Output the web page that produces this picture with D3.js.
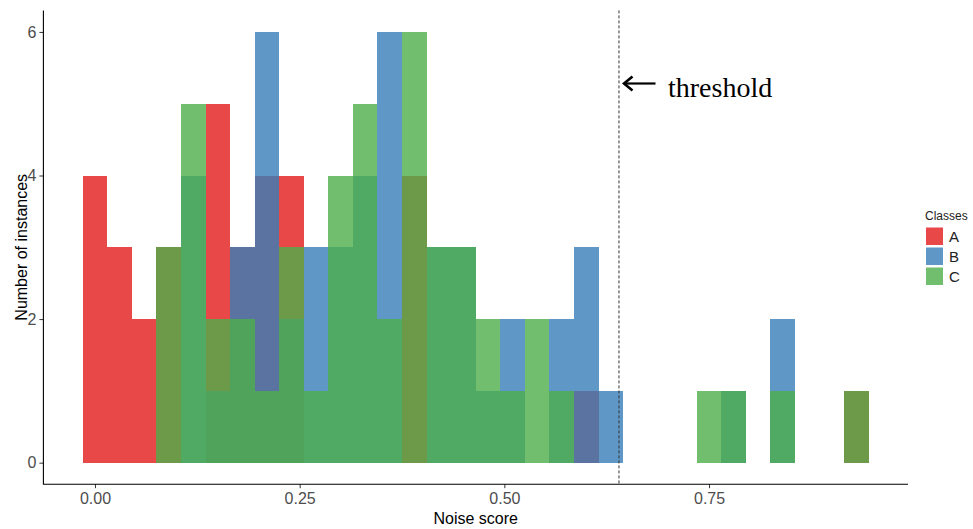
<!DOCTYPE html>
<html>
<head>
<meta charset="utf-8">
<script src="https://cdn.jsdelivr.net/npm/d3@7"></script>
<style>
  body { margin: 0; background: #fff; }
  svg { display: block; font-family: "Liberation Sans", Arial, sans-serif; }
</style>
</head>
<body>
<svg id="chart" width="973" height="529"></svg>
<script>
// histogram bins (centre of each bin, width 0.03)
const binCenters = [0.00, 0.03, 0.06, 0.09, 0.12, 0.15, 0.18, 0.21, 0.24, 0.27, 0.30,
                    0.33, 0.36, 0.39, 0.42, 0.45, 0.48, 0.51, 0.54, 0.57, 0.60, 0.63,
                    0.66, 0.69, 0.72, 0.75, 0.78, 0.81, 0.84, 0.87, 0.90, 0.93];
const binWidth = 0.03;

// counts per class
const countsA = [4, 3, 2, 3, 0, 5, 3, 4, 4, 0, 0, 0, 0, 4, 0, 0, 0, 0, 0, 0, 1, 0, 0, 0, 0, 0, 0, 0, 0, 0, 0, 1];
const countsB = [0, 0, 0, 0, 4, 1, 3, 6, 2, 3, 3, 4, 6, 0, 3, 3, 1, 2, 0, 2, 3, 1, 0, 0, 0, 0, 1, 0, 2, 0, 0, 0];
const countsC = [0, 0, 0, 3, 5, 2, 2, 1, 3, 1, 4, 5, 2, 6, 3, 3, 2, 1, 2, 1, 0, 0, 0, 0, 0, 1, 1, 0, 1, 0, 0, 1];

const classes = ["A", "B", "C"];
const classColors = ["#E41A1C", "#377EB8", "#4DAF4A"];
const xTicks = [0, 0.25, 0.5, 0.75];
const yTicks = [0, 2, 4, 6];
const threshold = 0.64;

const svg = d3.select("#chart");
const panel = { left: 43.4, right: 908, top: 10.4, bottom: 484.2 };

const x = d3.scaleLinear().domain([-0.063, 0.993]).range([panel.left, panel.right]);
const y = d3.scaleLinear().domain([-0.3, 6.3]).range([panel.bottom, panel.top]);

const series = [countsA, countsB, countsC];

// bars, drawn A then B then C so overlaps blend like the original
series.forEach((counts, i) => {
    const data = binCenters.map((c, k) => ({ c: c, n: counts[k] })).filter(d => d.n > 0);
    svg.append("g")
        .attr("shape-rendering", "crispEdges")
        .selectAll("rect")
        .data(data)
        .enter()
        .append("rect")
        .attr("x", d => x(d.c - binWidth / 2))
        .attr("width", d => x(d.c + binWidth / 2) - x(d.c - binWidth / 2))
        .attr("y", d => y(d.n))
        .attr("height", d => y(0) - y(d.n))
        .attr("fill", classColors[i])
        .attr("fill-opacity", 0.8);
});

// threshold line
svg.append("line")
    .attr("x1", x(threshold)).attr("x2", x(threshold))
    .attr("y1", panel.top).attr("y2", panel.bottom)
    .attr("stroke", "#333")
    .attr("stroke-width", 1)
    .attr("stroke-dasharray", "3,2");

// axes
const xAxis = svg.append("g")
    .attr("transform", `translate(0, ${panel.bottom})`)
    .call(d3.axisBottom(x).tickValues(xTicks).tickFormat(d3.format(".2f")).tickSizeOuter(0).tickSize(4).tickPadding(4));
const yAxis = svg.append("g")
    .attr("transform", `translate(${panel.left}, 0)`)
    .call(d3.axisLeft(y).tickValues(yTicks).tickFormat(d3.format("d")).tickSizeOuter(0).tickSize(4).tickPadding(3));

[xAxis, yAxis].forEach(g => {
    g.select(".domain").remove();
    g.selectAll(".tick line").attr("stroke", "#333");
    g.selectAll(".tick text")
        .attr("fill", "#4D4D4D")
        .attr("font-size", 16)
        .attr("font-family", "Liberation Sans, Arial, sans-serif");
});

// axis lines
svg.append("path")
    .attr("d", `M${panel.left},${panel.top}V${panel.bottom}H${panel.right}`)
    .attr("fill", "none")
    .attr("stroke", "#000")
    .attr("stroke-width", 1.1);

// axis titles
svg.append("text")
    .attr("x", (panel.left + panel.right) / 2)
    .attr("y", 523.5)
    .attr("text-anchor", "middle")
    .attr("font-size", 16)
    .text("Noise score");

svg.append("text")
    .attr("transform", `translate(26.5, ${(panel.top + panel.bottom) / 2}) rotate(-90)`)
    .attr("text-anchor", "middle")
    .attr("font-size", 16)
    .text("Number of instances");

// annotation: arrow + label
const note = svg.append("g").attr("stroke", "#000").attr("fill", "none");
note.append("line")
    .attr("x1", 624).attr("x2", 655.5)
    .attr("y1", 83.5).attr("y2", 83.5)
    .attr("stroke-width", 2.2);
note.append("path")
    .attr("d", "M632.5,76.5 L624,83.5 L632.5,90.5")
    .attr("stroke-width", 2.6)
    .attr("stroke-linejoin", "miter");

svg.append("text")
    .attr("x", 668)
    .attr("y", 96.5)
    .attr("font-family", "Liberation Serif, Times New Roman, serif")
    .attr("font-size", 28)
    .text("threshold");

// legend
const legend = svg.append("g").attr("transform", "translate(925, 0)");
legend.append("text")
    .attr("x", 0)
    .attr("y", 220)
    .attr("font-size", 12)
    .attr("fill", "#222")
    .text("Classes");

const keys = legend.selectAll(".key")
    .data(classes)
    .enter()
    .append("g")
    .attr("class", "key")
    .attr("transform", (d, i) => `translate(0, ${227.5 + i * 20})`);

keys.append("rect")
    .attr("x", 1)
    .attr("width", 17)
    .attr("height", 17.5)
    .attr("fill", (d, i) => classColors[i])
    .attr("fill-opacity", 0.8);

keys.append("text")
    .attr("x", 24)
    .attr("y", 14.5)
    .attr("font-size", 15)
    .attr("fill", "#222")
    .text(d => d);
</script>
</body>
</html>
